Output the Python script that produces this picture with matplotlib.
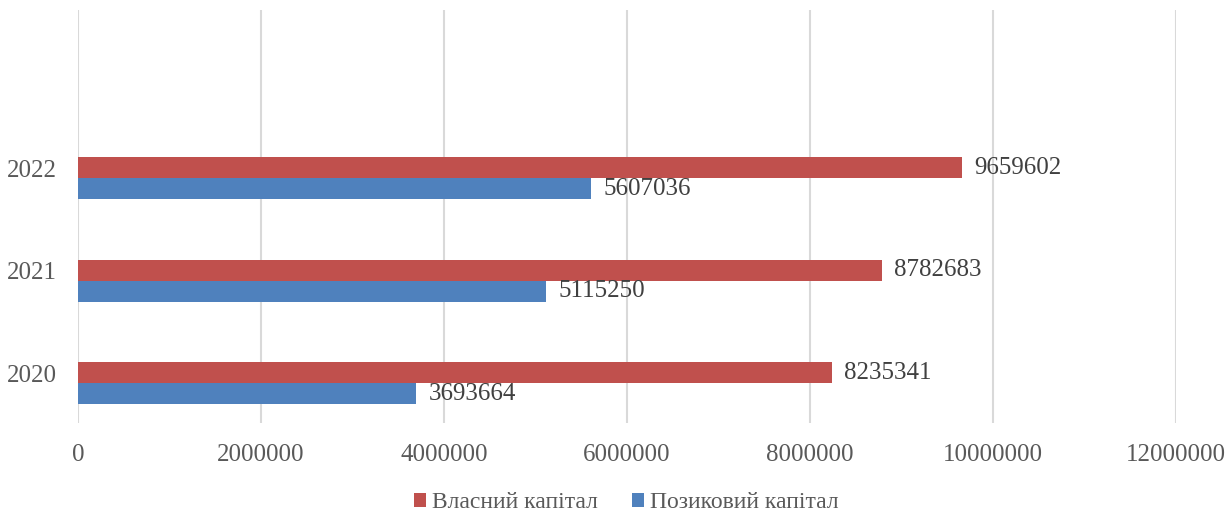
import matplotlib.pyplot as plt
import numpy as np

years = ["2020", "2021", "2022"]
own_capital = [8235341, 8782683, 9659602]
borrowed_capital = [3693664, 5115250, 5607036]
labels = ["Власний капітал", "Позиковий капітал"]

plt.rcParams['font.family'] = ['Liberation Serif', 'DejaVu Serif']

fig = plt.figure(figsize=(12.28, 5.13), dpi=100)
ax = fig.add_axes([78 / 1228, 1 - 423 / 513, (1176 - 78) / 1228, 413 / 513])

y = np.arange(len(years))
h = 0.205
red = "#C0504D"
blue = "#4F81BD"
fs = 18

b1 = ax.barh(y + h / 2, own_capital, height=h, color=red, label=labels[0], zorder=3)
b2 = ax.barh(y - h / 2, borrowed_capital, height=h, color=blue, label=labels[1], zorder=3)

for bars, vals in ((b1, own_capital), (b2, borrowed_capital)):
    for bar, v in zip(bars, vals):
        ax.text(v + 140000, bar.get_y() + bar.get_height() / 2, str(v),
                va='center', ha='left', fontsize=fs, color='#404040')

ax.set_xlim(0, 12000000)
ax.set_ylim(-0.39, 3.64)
ax.set_xticks(np.arange(0, 12000001, 2000000))
ax.set_xticklabels([str(v) for v in range(0, 12000001, 2000000)])
ax.set_yticks(y + 0.095)
ax.set_yticklabels(years)
ax.tick_params(axis='both', length=0, labelsize=fs, labelcolor='#595959')
ax.tick_params(axis='x', pad=15)
ax.tick_params(axis='y', pad=15)
ax.grid(axis='x', color='#D9D9D9', linewidth=1.5, zorder=0)
for s in ax.spines.values():
    s.set_visible(False)

fig.legend(handles=[b1, b2], loc='lower center', ncol=2, frameon=False,
           bbox_to_anchor=(0.51, -0.042), fontsize=17, labelcolor='#595959',
           handlelength=0.5, handleheight=0.5, handletextpad=0.25, columnspacing=1.45)

fig.savefig("out.png", dpi=100)
